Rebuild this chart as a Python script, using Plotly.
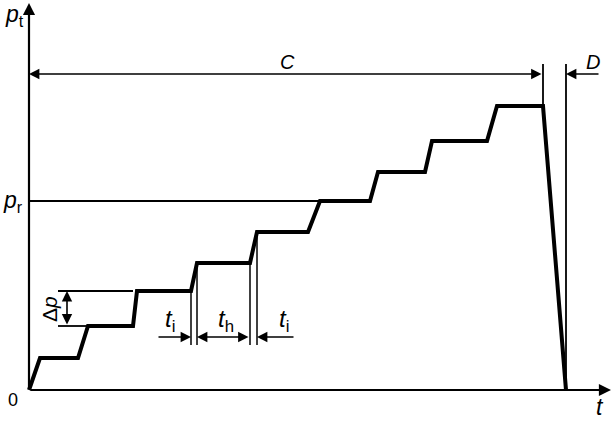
import plotly.graph_objects as go

# Pressure test profile (time units, pressure units)
t_curve = [0, 11, 49, 59, 104, 108, 162, 168, 221, 228, 279, 291, 341, 349, 396, 403, 458, 468, 514, 537]
p_curve = [0, 32, 32, 64, 64, 99, 99, 127, 127, 158, 158, 189, 189, 218, 218, 249, 249, 284, 284, 0]

p_r = 189          # rated pressure level
t_C_end = 514      # end of hold phase C
t_D_end = 537      # end of depressurisation D
dim_level = 316    # level of C / D dimension line
ext_top = 326      # top of the extension lines
ti_bottom = 45     # bottom of t_i / t_h extension lines
ti_level = 53      # level of t_i / t_h arrows
ti_marks = [(162, 99), (168, 127), (221, 127), (228, 158)]
dp_low, dp_high, dp_t = 64, 99, 38

fig = go.Figure()
fig.add_trace(go.Scatter(x=t_curve, y=p_curve, mode="lines",
                         line=dict(color="black", width=4), hoverinfo="skip"))

def seg(x0, y0, x1, y1, w=1.8):
    fig.add_shape(type="line", x0=x0, y0=y0, x1=x1, y1=y1, xref="x", yref="y",
                  line=dict(color="black", width=w))

def arrow(xh, yh, xt, yt, both=False, w=1.6, size=1.3):
    fig.add_annotation(x=xh, y=yh, ax=xt, ay=yt, xref="x", yref="y", axref="x", ayref="y",
                       text="", showarrow=True, arrowhead=2, arrowsize=size, arrowwidth=w,
                       arrowcolor="black", arrowside="end+start" if both else "end",
                       standoff=0, startstandoff=0)

# axes with arrows
arrow(0, 387, 0, 0, w=2.2, size=1.1)
arrow(582, 0, 0, 0, w=2.2, size=1.1)

# p_r line
seg(0, p_r, t_curve[11], p_r)

# C and D dimensions
seg(t_C_end, p_curve[-2], t_C_end, ext_top)
seg(t_D_end, 0, t_D_end, ext_top)
arrow(0, dim_level, t_C_end, dim_level, both=True)
arrow(t_D_end, dim_level, 571, dim_level)

# Δp
seg(29, dp_high, 104, dp_high)
seg(29, dp_low, 59, dp_low)
arrow(dp_t, dp_high, dp_t, dp_low, both=True)

# t_i, t_h
for tx, py in ti_marks:
    seg(tx, py, tx, ti_bottom, w=1.5)
arrow(162, ti_level, 128, ti_level)
arrow(168, ti_level, 221, ti_level, both=True)
arrow(228, ti_level, 266, ti_level)

FAM = "Liberation Sans, Arial"
def label(x, y, txt, angle=0, size=19):
    fig.add_annotation(x=x, y=y, xref="x", yref="y", text=txt, showarrow=False,
                       font=dict(family=FAM, size=size, color="black", weight=500), textangle=angle)

label(-15, 375, "<i>p</i><sub>t</sub>", size=23)
label(-16, p_r, "<i>p</i><sub>r</sub>", size=23)
label(-16, -10, "0", size=18)
label(571, -17, "<i>t</i>", size=23)
label(258, 328, "<i>C</i>", size=20)
label(564, 328, "<i>D</i>", size=20)
label(20, 81, "Δ<i>p</i>", angle=-90, size=21)
label(141, 70, "<i>t</i><sub>i</sub>", size=24)
label(197, 70, "<i>t</i><sub>h</sub>", size=24)
label(255, 70, "<i>t</i><sub>i</sub>", size=24)

fig.update_layout(width=614, height=422, margin=dict(l=0, r=0, t=0, b=0),
                  plot_bgcolor="white", paper_bgcolor="white", showlegend=False,
                  xaxis=dict(range=[-29, 585], visible=False, fixedrange=True),
                  yaxis=dict(range=[-32, 390], visible=False, fixedrange=True))
fig.write_html("out.html", config={"displayModeBar": False},
               post_script="document.body.style.margin='0';")
